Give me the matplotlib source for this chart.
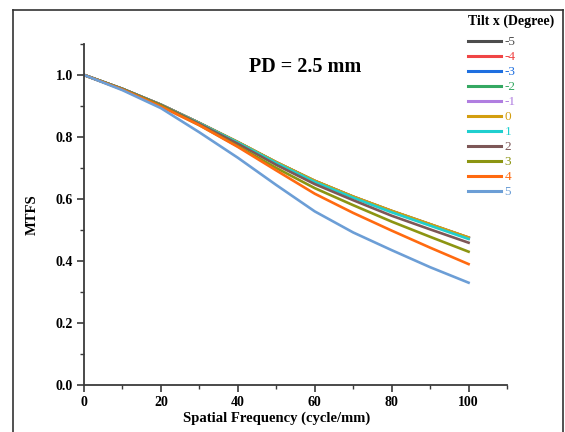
import matplotlib
matplotlib.use("Agg")
import matplotlib.pyplot as plt
from matplotlib.lines import Line2D

freq = [0, 10, 20, 30, 40, 50, 60, 70, 80, 90, 100]
tilts = ["-5", "-4", "-3", "-2", "-1", "0", "1", "2", "3", "4", "5"]
mtf = {
    "-5": [1.0, 0.955, 0.904, 0.845, 0.783, 0.718, 0.658, 0.607, 0.560, 0.517, 0.474],
    "-4": [1.0, 0.955, 0.904, 0.845, 0.783, 0.718, 0.658, 0.607, 0.561, 0.518, 0.475],
    "-3": [1.0, 0.955, 0.904, 0.845, 0.783, 0.718, 0.658, 0.607, 0.561, 0.518, 0.475],
    "-2": [1.0, 0.955, 0.904, 0.845, 0.783, 0.718, 0.658, 0.607, 0.561, 0.518, 0.475],
    "-1": [1.0, 0.955, 0.904, 0.845, 0.783, 0.718, 0.658, 0.607, 0.561, 0.518, 0.475],
    "0":  [1.0, 0.955, 0.904, 0.845, 0.784, 0.719, 0.659, 0.608, 0.562, 0.519, 0.476],
    "1":  [1.0, 0.955, 0.903, 0.844, 0.782, 0.716, 0.655, 0.604, 0.557, 0.514, 0.471],
    "2":  [1.0, 0.955, 0.903, 0.842, 0.778, 0.710, 0.648, 0.596, 0.546, 0.502, 0.459],
    "3":  [1.0, 0.954, 0.901, 0.838, 0.770, 0.700, 0.635, 0.580, 0.527, 0.478, 0.430],
    "4":  [1.0, 0.953, 0.898, 0.838, 0.768, 0.692, 0.617, 0.555, 0.498, 0.443, 0.390],
    "5":  [1.0, 0.951, 0.893, 0.815, 0.733, 0.645, 0.560, 0.492, 0.435, 0.380, 0.330],
}
colors = ["#4d4d4d", "#f04545", "#1e6fe0", "#35a862", "#b07ee0", "#d39e10",
          "#1fcfcf", "#7d5757", "#8c9512", "#ff6a10", "#6c9ed6"]

plt.rcParams["font.family"] = ["Liberation Serif", "DejaVu Serif"]
plt.rcParams["font.weight"] = "bold"

fig = plt.figure(figsize=(5.65, 4.32), dpi=100)
ax = fig.add_axes([0.1487, 0.1088, 0.7487, 0.7894])

for t, c in zip(tilts, colors):
    ax.plot(freq, mtf[t], color=c, lw=1.9, label=t)

ax.set_xlim(0, 110)
ax.set_ylim(0, 1.1)
ax.set_xticks([0, 20, 40, 60, 80, 100])
ax.set_xticks([10, 30, 50, 70, 90, 110], minor=True)
ax.set_yticks([0.0, 0.2, 0.4, 0.6, 0.8, 1.0])
ax.set_yticks([0.1, 0.3, 0.5, 0.7, 0.9, 1.1], minor=True)
ax.set_yticklabels(["0.0", "0.2", "0.4", "0.6", "0.8", "1.0"])
for s in ["top", "right"]:
    ax.spines[s].set_visible(False)
for s in ["left", "bottom"]:
    ax.spines[s].set_color("#3a3a3a")
    ax.spines[s].set_linewidth(1.3)
ax.tick_params(which="major", direction="out", length=5, width=1.2, color="#3a3a3a",
               labelsize=10, pad=3)
ax.tick_params(which="minor", direction="out", length=3, width=1.0, color="#3a3a3a")
for lab in ax.get_xticklabels() + ax.get_yticklabels():
    lab.set_fontweight("bold")

ax.set_xlabel("Spatial Frequency (cycle/mm)", fontsize=10.5, fontweight="bold")
ax.xaxis.set_label_coords(50 / 110, -0.078)
ax.set_ylabel("MTFS", fontsize=10.5, fontweight="bold", labelpad=12)

fig.text(305 / 565, 1 - 67 / 432, "PD = 2.5 mm", fontsize=14.5, fontweight="bold",
         ha="center", va="center")

leg = ax.legend(loc="upper left", bbox_to_anchor=(459 / 565, 1 - 5 / 432),
                bbox_transform=fig.transFigure, frameon=False, fontsize=9.5,
                title="Tilt x (Degree)", title_fontproperties={"weight": "bold", "size": 10},
                handlelength=2.5, handletextpad=0.25, labelspacing=0.21,
                borderpad=0.2, labelcolor="linecolor")
leg._legend_box.align = "left"
leg._legend_box.sep = 6
for txt in leg.get_texts():
    txt.set_fontweight("normal")
for h in leg.legend_handles:
    h.set_linewidth(2.2)

# outer frame (cropped rectangle)
fw = 1.2
fig.add_artist(Line2D([12.5 / 565, 12.5 / 565], [0, 1 - 9.5 / 432], transform=fig.transFigure,
                      color="#333333", lw=fw))
fig.add_artist(Line2D([12.5 / 565, 563 / 565], [1 - 9.5 / 432, 1 - 9.5 / 432],
                      transform=fig.transFigure, color="#333333", lw=fw))
fig.add_artist(Line2D([563 / 565, 563 / 565], [0, 1 - 9.5 / 432], transform=fig.transFigure,
                      color="#333333", lw=fw))

fig.savefig("out.png", dpi=100)
